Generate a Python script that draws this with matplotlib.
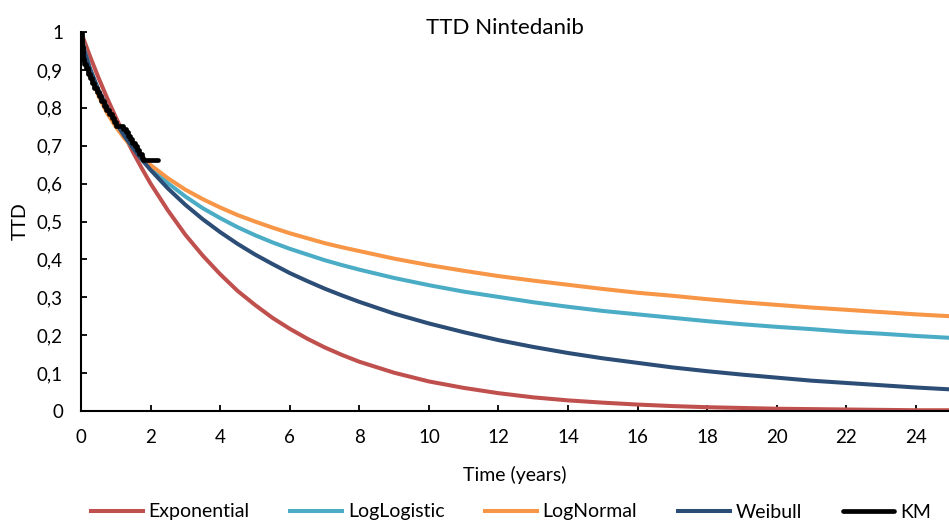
import matplotlib
matplotlib.use("Agg")
import matplotlib.pyplot as plt

plt.rcParams['font.family'] = ['Lato', 'DejaVu Sans']

# fitted survival curves (time to discontinuation), read at these times in years
t_fit = [0, 0.1, 0.25, 0.5, 0.75, 1, 1.25, 1.5, 1.75, 2, 2.5, 3, 3.5, 4,
         4.5, 5, 5.5, 6, 6.5, 7, 7.5, 8, 9, 10, 11, 12, 13, 14, 15, 16, 17,
         18, 19, 20, 21, 22, 23, 24, 25]
exponential = [1.0, 0.975, 0.938, 0.880, 0.826, 0.775, 0.727, 0.682, 0.640,
               0.600, 0.529, 0.465, 0.410, 0.361, 0.317, 0.280, 0.246, 0.217,
               0.191, 0.168, 0.148, 0.130, 0.101, 0.078, 0.061, 0.047, 0.036,
               0.028, 0.022, 0.017, 0.013, 0.010, 0.008, 0.006, 0.005, 0.004,
               0.003, 0.002, 0.002]
loglogistic = [1.0, 0.952, 0.905, 0.845, 0.798, 0.758, 0.724, 0.694, 0.667,
               0.643, 0.601, 0.566, 0.535, 0.509, 0.485, 0.464, 0.445, 0.428,
               0.413, 0.398, 0.385, 0.373, 0.351, 0.332, 0.315, 0.301, 0.287,
               0.275, 0.264, 0.255, 0.246, 0.237, 0.229, 0.222, 0.216, 0.209,
               0.204, 0.198, 0.193]
lognormal = [1.0, 0.949, 0.895, 0.832, 0.786, 0.750, 0.719, 0.693, 0.670,
             0.649, 0.614, 0.584, 0.559, 0.537, 0.517, 0.500, 0.484, 0.469,
             0.456, 0.443, 0.432, 0.422, 0.402, 0.385, 0.370, 0.356, 0.344,
             0.333, 0.322, 0.312, 0.304, 0.295, 0.287, 0.280, 0.273, 0.267,
             0.261, 0.255, 0.250]
weibull = [1.0, 0.950, 0.905, 0.848, 0.802, 0.761, 0.725, 0.693, 0.663,
           0.636, 0.587, 0.544, 0.506, 0.472, 0.441, 0.413, 0.388, 0.364,
           0.343, 0.323, 0.305, 0.288, 0.257, 0.231, 0.208, 0.187, 0.169,
           0.153, 0.139, 0.127, 0.115, 0.105, 0.096, 0.088, 0.080, 0.074,
           0.068, 0.062, 0.057]

# Kaplan-Meier estimate
km_t = [0, 0.03, 0.06, 0.1, 0.15, 0.2, 0.26, 0.32, 0.38, 0.45, 0.52, 0.58,
        0.65, 0.72, 0.8, 0.88, 0.95, 1.02, 1.22, 1.3, 1.36, 1.42, 1.48, 1.55,
        1.62, 1.68, 1.74, 1.78, 2.22]
km_s = [1.0, 0.96, 0.93, 0.915, 0.905, 0.89, 0.878, 0.866, 0.853, 0.842,
        0.83, 0.818, 0.806, 0.795, 0.783, 0.772, 0.762, 0.752, 0.745, 0.735,
        0.726, 0.718, 0.708, 0.698, 0.688, 0.678, 0.668, 0.662, 0.662]

x_ticks = list(range(0, 25, 2))
y_ticks = [0, 0.1, 0.2, 0.3, 0.4, 0.5, 0.6, 0.7, 0.8, 0.9, 1.0]
y_ticklabels = ['0', '0,1', '0,2', '0,3', '0,4', '0,5', '0,6', '0,7', '0,8',
                '0,9', '1']

fig = plt.figure(figsize=(9.49, 5.22), dpi=100)
ax = fig.add_axes([81 / 949, 111 / 522, 1 - 81 / 949, 379 / 522])

lw = 2.9
ax.plot(t_fit, exponential, c='#C0504D', lw=lw, label='Exponential')
ax.plot(t_fit, loglogistic, c='#4BACC6', lw=lw, label='LogLogistic')
ax.plot(t_fit, lognormal, c='#F79646', lw=lw, label='LogNormal')
ax.plot(t_fit, weibull, c='#2C4D75', lw=lw, label='Weibull')
ax.plot(km_t, km_s, c='black', lw=3.4, drawstyle='steps-post', label='KM',
        solid_joinstyle='round', solid_capstyle='round')

ax.set_xlim(0, 24.95)
ax.set_ylim(0, 1)
ax.set_xticks(x_ticks)
ax.set_yticks(y_ticks)
ax.set_yticklabels(y_ticklabels)
ax.tick_params(direction='in', length=4.5, width=1.3, labelsize=13.5, pad=13,
               colors='black')
for side in ('top', 'right'):
    ax.spines[side].set_visible(False)
for side in ('left', 'bottom'):
    ax.spines[side].set_linewidth(1.5)

ax.set_xlabel('Time (years)', fontsize=14, labelpad=14)
ax.set_ylabel('TTD', fontsize=14, labelpad=6)
fig.text(505 / 949, 1 - 28 / 522, 'TTD Nintedanib', ha='center', va='center',
         fontsize=16)

fig.legend(loc='center', bbox_to_anchor=(511 / 949, 10 / 522), ncol=5,
           frameon=False, fontsize=14, handlelength=2.65, handletextpad=0.3,
           columnspacing=2.1, borderaxespad=0)

fig.savefig('out.png', dpi=100)
